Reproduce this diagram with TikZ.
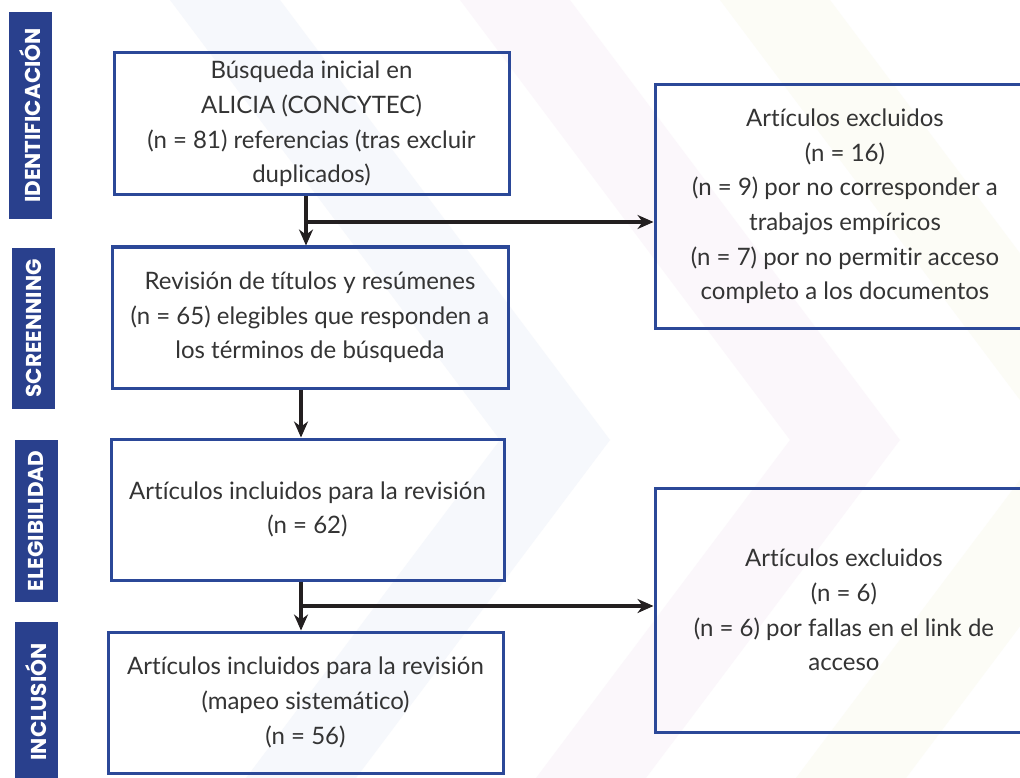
\documentclass[tikz,border=0pt]{standalone}
\usepackage{fontspec}
\setmainfont{Lato}[Ligatures=CommonOff]
\newfontfamily\labfont{Poppins}
\usetikzlibrary{arrows.meta}
\definecolor{frameblue}{RGB}{43,72,152}
\definecolor{labblue}{RGB}{41,64,141}
\definecolor{txtgray}{RGB}{52,52,52}
\definecolor{arrowblack}{RGB}{35,31,32}
\definecolor{bandblue}{RGB}{246,248,252}
\definecolor{bandpink}{RGB}{251,247,251}
\definecolor{bandyellow}{RGB}{252,252,246}
\tikzset{
  box/.style={draw=frameblue, line width=3pt, align=center, text=txtgray,
    font=\fontsize{24}{34.6}\selectfont, inner sep=0pt},
  stage/.style={fill=labblue, text=white, rotate=90, minimum height=43pt,
    font=\labfont\bfseries\fontsize{21.5}{21.5}\selectfont, inner sep=0pt},
  flow/.style={draw=arrowblack, line width=3.5pt, -{Stealth[length=16pt,width=14pt]}},
}
\begin{document}
\begin{tikzpicture}[x=1pt, y=-1pt]
  \useasboundingbox (0,0) rectangle (1020,778);
  \clip (0,0) rectangle (1020,778);
  \fill[white] (0,0) rectangle (1020,778);
  % faint chevrons in the background
  \fill[bandblue] (170,0) -- (280,0) -- (610,440) -- (356,778) -- (246,778) -- (500,440) -- cycle;
  \fill[bandpink] (460,0) -- (570,0) -- (900,440) -- (646,778) -- (536,778) -- (790,440) -- cycle;
  \fill[bandyellow] (720,0) -- (830,0) -- (1160,440) -- (906,778) -- (796,778) -- (1050,440) -- cycle;

  % stages
  \node[stage, minimum width=207pt] (ident) at (30.5,115.5) {IDENTIFICACIÓN};
  \node[stage, minimum width=161pt] (screen) at (33.5,328.5) {SCREENNING};
  \node[stage, minimum width=162pt] (eleg) at (36,521) {ELEGIBILIDAD};
  \node[stage, minimum width=160pt] (incl) at (36,702) {INCLUSIÓN};

  % boxes
  \node[box, minimum width=395pt, minimum height=142pt] (busqueda) at (311.5,124)
    {Búsqueda inicial en\\ALICIA (CONCYTEC)\\(n = 81) referencias (tras excluir\\duplicados)};
  \node[box, minimum width=396pt, minimum height=141pt] (revision) at (310,317.5)
    {Revisión de títulos y resúmenes\\(n = 65) elegibles que responden a\\los términos de búsqueda};
  \node[box, minimum width=393pt, minimum height=141pt] (incluidos) at (307.5,509.5)
    {Artículos incluidos para la revisión\\(n = 62)};
  \node[box, minimum width=395pt, minimum height=141pt] (mapeo) at (305.5,702.5)
    {Artículos incluidos para la revisión\\(mapeo sistemático)\\(n = 56)};
  \node[box, minimum width=380pt, minimum height=243pt] (excl1) at (845,206.5)
    {Artículos excluidos\\(n = 16)\\(n = 9) por no corresponder a\\trabajos empíricos\\(n = 7) por no permitir acceso\\completo a los documentos};
  \node[box, minimum width=378pt, minimum height=244pt] (excl2) at (844,610)
    {Artículos excluidos\\(n = 6)\\(n = 6) por fallas en el link de\\acceso};

  % connectors
  \coordinate (j1) at (306,222);
  \coordinate (j2) at (301,606);
  \draw[flow] (busqueda.south -| j1) -- (revision.north -| j1);
  \draw[flow] (j1) -- (j1 -| excl1.west);
  \draw[flow] (revision.south -| j2) -- (incluidos.north -| j2);
  \draw[flow] (incluidos.south -| j2) -- (mapeo.north -| j2);
  \draw[flow] (j2) -- (j2 -| excl2.west);
\end{tikzpicture}
\end{document}
